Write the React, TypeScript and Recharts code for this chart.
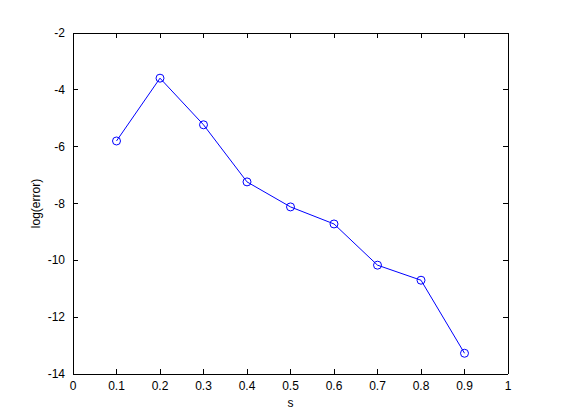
import React from 'react';
import { LineChart, Line, XAxis, YAxis, Label } from 'recharts';

const sValues = [0.1, 0.2, 0.3, 0.4, 0.5, 0.6, 0.7, 0.8, 0.9];
const logError = [-5.8, -3.59, -5.23, -7.24, -8.12, -8.72, -10.17, -10.7, -13.27];
const xTicks = [0, 0.1, 0.2, 0.3, 0.4, 0.5, 0.6, 0.7, 0.8, 0.9, 1];
const yTicks = [-14, -12, -10, -8, -6, -4, -2];
const xTitle = 's';
const yTitle = 'log(error)';

const data = sValues.map((s, i) => ({ s, e: logError[i] }));

const FONT = 'Liberation Sans, Arial, Helvetica, sans-serif';
const FS = 12;
const TL = 5;

const BottomTick = (p: any) => (
  <g>
    <line x1={p.x} y1={p.y} x2={p.x} y2={p.y - TL} stroke="#000" shapeRendering="crispEdges" />
    <text x={p.x} y={p.y + 16} textAnchor="middle" fontSize={FS} fontFamily={FONT} fill="#000">
      {String(p.payload.value)}
    </text>
  </g>
);
const TopTick = (p: any) => (
  <line x1={p.x} y1={p.y} x2={p.x} y2={p.y + TL} stroke="#000" shapeRendering="crispEdges" />
);
const LeftTick = (p: any) => (
  <g>
    <line x1={p.x} y1={p.y} x2={p.x + TL} y2={p.y} stroke="#000" shapeRendering="crispEdges" />
    <text x={p.x - 8} y={p.y + 4} textAnchor="end" fontSize={FS} fontFamily={FONT} fill="#000">
      {String(p.payload.value)}
    </text>
  </g>
);
const RightTick = (p: any) => (
  <line x1={p.x} y1={p.y} x2={p.x - TL} y2={p.y} stroke="#000" shapeRendering="crispEdges" />
);

const axisLine = { stroke: '#000', shapeRendering: 'crispEdges' } as any;

export default function App() {
  return (
    <div style={{ position: 'absolute', left: 0, top: 0, width: 561, height: 420, background: '#fff' }}>
      <LineChart width={561} height={420} data={data} margin={{ top: 32, right: 52, bottom: 6, left: 33 }}>
        <XAxis
          dataKey="s"
          type="number"
          domain={[0, 1]}
          ticks={xTicks}
          interval={0}
          height={40}
          tickSize={0}
          tickMargin={0}
          tickLine={false}
          axisLine={axisLine}
          tick={BottomTick}
        >
          <Label
            content={(props: any) => {
              const vb = props.viewBox;
              return (
                <text x={vb.x + vb.width / 2} y={vb.y + 33} textAnchor="middle" fontSize={FS} fontFamily={FONT} fill="#000">
                  {xTitle}
                </text>
              );
            }}
          />
        </XAxis>
        <XAxis
          xAxisId="top"
          orientation="top"
          type="number"
          dataKey="s"
          domain={[0, 1]}
          ticks={xTicks}
          interval={0}
          height={1}
          tickSize={0}
          tickMargin={0}
          tickLine={false}
          axisLine={axisLine}
          tick={TopTick}
        />
        <YAxis
          type="number"
          domain={[-14, -2]}
          ticks={yTicks}
          interval={0}
          width={40}
          tickSize={0}
          tickMargin={0}
          tickLine={false}
          axisLine={axisLine}
          tick={LeftTick}
        >
          <Label
            content={(props: any) => {
              const vb = props.viewBox;
              const cx = vb.x + 7;
              const cy = vb.y + vb.height / 2;
              return (
                <text
                  x={cx}
                  y={cy}
                  transform={`rotate(-90 ${cx} ${cy})`}
                  textAnchor="middle"
                  fontSize={FS}
                  fontFamily={FONT}
                  fill="#000"
                >
                  {yTitle}
                </text>
              );
            }}
          />
        </YAxis>
        <YAxis
          yAxisId="right"
          orientation="right"
          type="number"
          domain={[-14, -2]}
          ticks={yTicks}
          interval={0}
          width={1}
          tickSize={0}
          tickMargin={0}
          tickLine={false}
          axisLine={axisLine}
          tick={RightTick}
        />
        <Line
          xAxisId="top"
          yAxisId="right"
          type="linear"
          dataKey="e"
          stroke="none"
          dot={false}
          activeDot={false}
          isAnimationActive={false}
        />
        <Line
          type="linear"
          dataKey="e"
          stroke="#0000ff"
          strokeWidth={1}
          dot={{ r: 4, stroke: '#0000ff', fill: 'none', strokeWidth: 1 }}
          isAnimationActive={false}
        />
      </LineChart>
    </div>
  );
}
